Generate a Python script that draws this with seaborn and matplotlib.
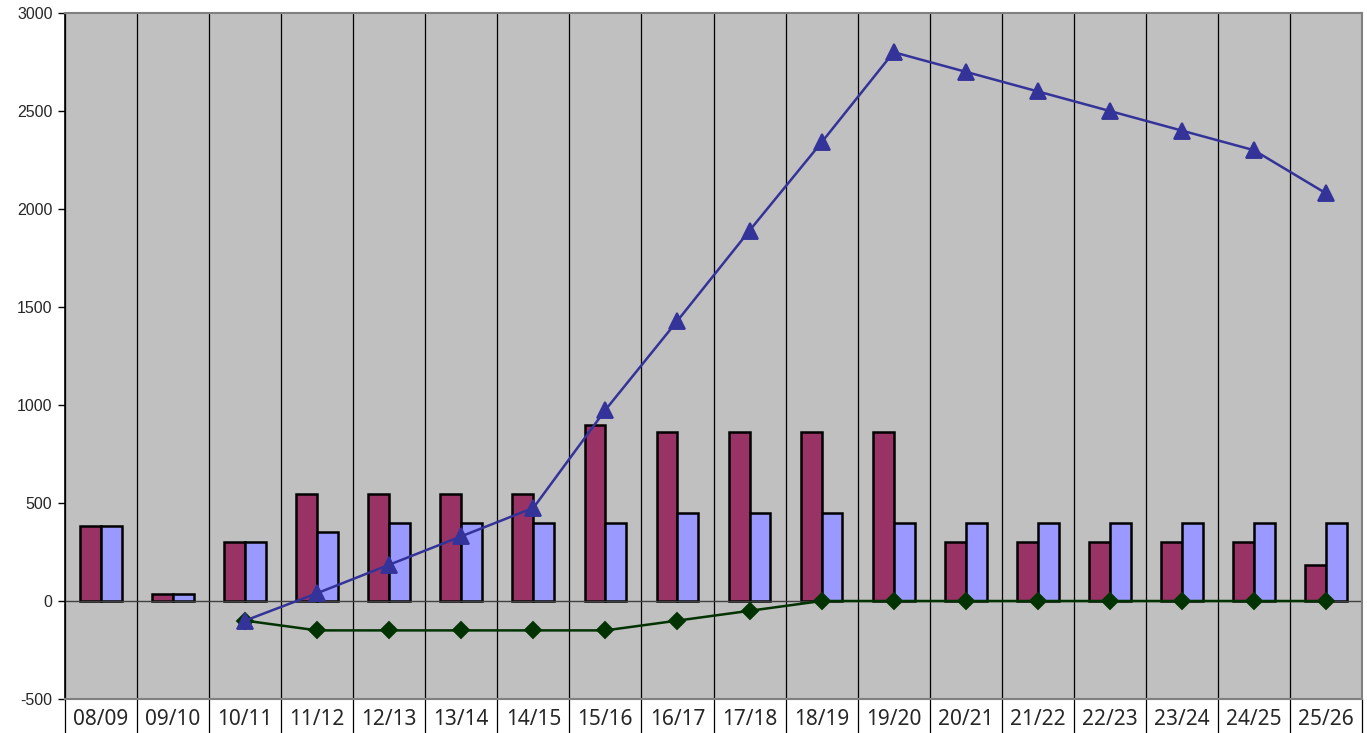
import numpy as np
import pandas as pd
import matplotlib
matplotlib.use('Agg')
import matplotlib.pyplot as plt
import seaborn as sns

years = ['08/09', '09/10', '10/11', '11/12', '12/13', '13/14', '14/15', '15/16', '16/17',
         '17/18', '18/19', '19/20', '20/21', '21/22', '22/23', '23/24', '24/25', '25/26']
maroon_vals = [385, 37, 300, 545, 545, 545, 545, 900, 860, 860, 860, 860, 300, 300, 300, 300, 300, 185]
blue_vals = [385, 37, 300, 350, 400, 400, 400, 400, 450, 450, 450, 400, 400, 400, 400, 400, 400, 400]

# line series start at 10/11
line_years = years[2:]
tri_vals = [-100, 40, 185, 330, 475, 975, 1430, 1890, 2340, 2800, 2700, 2600, 2500, 2400, 2300, 2080]
dia_vals = [-100, -150, -150, -150, -150, -150, -100, -50, 0, 0, 0, 0, 0, 0, 0, 0]

bars = pd.DataFrame({
    'year': years * 2,
    'value': maroon_vals + blue_vals,
    'series': ['a'] * len(years) + ['b'] * len(years),
})

sns.set_style('white')
plt.rcParams['font.family'] = ['Liberation Sans', 'DejaVu Sans']
plt.rcParams['axes.unicode_minus'] = False

fig = plt.figure(figsize=(13.67, 7.33), dpi=100)
ax = fig.add_axes([65 / 1367, 34 / 733, 1297 / 1367, 686 / 733])
ax.set_facecolor('#C0C0C0')

sns.barplot(data=bars, x='year', y='value', hue='series', order=years,
            palette=['#993366', '#9999FF'], width=0.58, saturation=1,
            edgecolor='black', linewidth=1.8, legend=False, ax=ax)

ax.axhline(0, color='#404040', lw=1, zorder=1.5)

sns.pointplot(x=line_years, y=dia_vals, order=years, color='#003300',
              markers='D', linestyles='-', markersize=8, linewidth=1.8,
              errorbar=None, ax=ax)
sns.pointplot(x=line_years, y=tri_vals, order=years, color='#333399',
              markers='^', linestyles='-', markersize=11, linewidth=1.8,
              errorbar=None, ax=ax)

ax.set_xlim(-0.5, len(years) - 0.5)
ax.set_ylim(-500, 3000)
ax.set_yticks(np.arange(-500, 3001, 500))
ax.set_xlabel('')
ax.set_ylabel('')

# category boxes under the plot
ax.set_xticks(np.arange(-0.5, len(years), 1), minor=True)
ax.tick_params(axis='x', which='minor', bottom=True, length=25, width=0.9,
               color='black', direction='out')
ax.tick_params(axis='x', which='major', bottom=True, length=0, pad=7, labelsize=15)
for lab in ax.get_xticklabels():
    lab.set_fontfamily(['Noto Sans', 'DejaVu Sans'])
ax.tick_params(axis='y', left=True, length=5, width=1, color='black', direction='out',
               labelsize=11.5, pad=4)
ax.grid(True, axis='x', which='minor', color='black', lw=0.9)
ax.set_axisbelow(True)

for side in ['top', 'right', 'bottom']:
    ax.spines[side].set_color('#808080')
    ax.spines[side].set_linewidth(1.5)
ax.spines['left'].set_color('black')
ax.spines['left'].set_linewidth(1.2)

fig.savefig('out.png', dpi=100)
